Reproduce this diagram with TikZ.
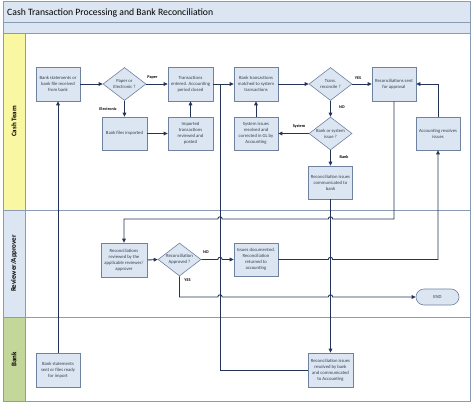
\documentclass[tikz,border=0pt]{standalone}
\usepackage{fontspec}
\setmainfont{Carlito}
\usetikzlibrary{shapes.geometric,arrows.meta}
\definecolor{boxfill}{HTML}{DCE6F2}
\definecolor{boxline}{HTML}{6F82A0}
\definecolor{lanel}{HTML}{8A9BB4}
\definecolor{conn}{HTML}{243456}
\definecolor{cashy}{HTML}{FAF7A3}
\definecolor{revb}{HTML}{DCE6F2}
\definecolor{bankg}{HTML}{C4D79B}
\definecolor{txt}{HTML}{33404F}
\begin{document}
\begin{tikzpicture}[x=1pt,y=-1pt,
 box/.style={draw=boxline,fill=boxfill,line width=0.6pt,minimum width=44pt,minimum height=34pt,inner sep=1pt,align=center,text=txt,font=\fontsize{4.7}{5.9}\selectfont},
 dia/.style={diamond,draw=boxline,fill=boxfill,line width=0.6pt,minimum width=43pt,minimum height=33pt,inner sep=0pt},
 dtext/.style={align=center,text=txt,font=\fontsize{4.7}{5.9}\selectfont,inner sep=0pt},
 endbox/.style={draw=boxline,fill=boxfill,line width=0.6pt,rounded corners=8pt,minimum width=43pt,minimum height=16pt,inner sep=1pt,text=txt,font=\fontsize{4.7}{5.9}\selectfont},
 lbl/.style={font=\fontsize{4.2}{5}\selectfont\bfseries,inner sep=0pt,text=black},
 flow/.style={draw=conn,line width=0.9pt},
 arr/.style={flow,-{Triangle[length=4pt,width=3.6pt]}},
 lane/.style={draw=lanel,line width=0.7pt},
 lanename/.style={rotate=90,font=\fontsize{7}{8}\selectfont\bfseries,text=black}
]
\useasboundingbox[fill=white] (0,0) rectangle (474,407);
% frame
\draw[lane,fill=boxfill] (3,1) rectangle (470,22);
\draw[lane,fill=boxfill] (3,22) rectangle (470,33);
\draw[lane,fill=white] (3,33) rectangle (470,210);
\draw[lane,fill=white] (3,210) rectangle (470,317);
\draw[lane,fill=white] (3,317) rectangle (470,401);
\draw[lane,fill=cashy] (3,33) rectangle (25,210);
\draw[lane,fill=revb] (3,210) rectangle (25,317);
\draw[lane,fill=bankg] (3,317) rectangle (25,401);
\node[anchor=west,font=\fontsize{9.7}{11}\selectfont,text=black,inner sep=0pt] (title) at (7,12.5) {Cash Transaction Processing and Bank Reconciliation};
\node[lanename] (l1) at (14,121.5) {Cash Team};
\node[lanename] (l2) at (14,263.5) {Reviewer/Approver};
\node[lanename] (l3) at (14,359.5) {Bank};
% nodes
\node[box] (recv) at (58,84) {Bank statements or\\bank file received\\from bank};
\node[dia] (pe) at (124.5,84) {};
\node[dtext] (pet) at (pe) {Paper or\\Electronic ?};
\node[box,minimum width=45pt,minimum height=33pt] (imp) at (124.5,133.5) {Bank files imported};
\node[box,minimum width=45pt] (ent) at (190.5,84) {Transactions\\entered. Accounting\\period closed};
\node[box,minimum width=45pt,minimum height=33pt] (post) at (190.5,133.5) {Imported\\transactions\\reviewed and\\posted};
\node[box] (match) at (256,84) {Bank transactions\\matched to system\\transactions};
\node[box,minimum height=33pt] (sys) at (256,133.5) {System issues\\resolved and\\corrected in GL by\\Accounting};
\node[dia] (tr) at (330.5,84) {};
\node[dtext] (trt) at (tr) {Trans.\\reconcile ?};
\node[box] (sent) at (394,84) {Reconciliations sent\\for approval};
\node[box,minimum height=33pt] (acc) at (438,133.5) {Accounting resolves\\issues};
\node[dia] (bs) at (330.5,133.5) {};
\node[dtext] (bst) at (bs) {Bank or system\\issue ?};
\node[box,minimum height=33pt] (comm) at (330.5,182.5) {Reconciliation issues\\communicated to\\bank};
\node[box,minimum width=46pt] (rev) at (124,260) {Reconciliations\\reviewed by the\\applicable reviewer/\\approver};
\node[dia] (ap) at (179.5,259.5) {};
\node[dtext] (apt) at (ap) {Reconciliation\\Approved ?};
\node[box,minimum height=33pt] (doc) at (256,259.5) {Issues documented.\\Reconciliation\\returned to\\accounting};
\node[endbox] (end) at (437.5,297) {END};
\node[box] (bsent) at (58,370) {Bank statements\\sent or files ready\\for import};
\node[box,minimum width=45pt] (res) at (330.5,370) {Reconciliation issues\\resolved by bank\\and communicated\\to Accounting};
\coordinate (j1) at (220,84);
% connectors
\draw[arr] (recv.east) -- (pe.west);
\draw[arr] (pe.east) -- (ent.west);
\node[lbl] (lpaper) at (152.5,77) {Paper};
\draw[arr] (pe.south) -- (imp.north);
\node[lbl] (lelec) at (108,109) {Electronic};
\draw[arr] (imp.east) -- (post.west);
\draw[arr] (post.north) -- (ent.south);
\draw[arr] (ent.east) -- (match.west);
\draw[arr] (match.east) -- (tr.west);
\draw[arr] (tr.east) -- (sent.west);
\node[lbl] (lyes1) at (358,78) {YES};
\draw[arr] (tr.south) -- (bs.north);
\node[lbl] (lno1) at (342,107) {NO};
\draw[arr] (bs.west) -- (sys.east);
\node[lbl] (lsys) at (299,126) {System};
\draw[arr] (sys.north) -- (match.south);
\draw[arr] (bs.south) -- (comm.north);
\node[lbl] (lbank) at (344,157) {Bank};
\draw[arr] (comm.south) -- (res.north);
\draw[flow] (res.west) -| (j1);
\draw[arr] (sent.south) -- (394,219) -- (332.7,219) .. controls (332.7,216.1) and (328.3,216.1) .. (328.3,219)
  -- (222.2,219) .. controls (222.2,216.1) and (217.8,216.1) .. (217.8,219) -| (rev.north);
\draw[arr] (rev.east) -- (ap.west);
\draw[arr] (ap.east) -- (217.8,259.5) .. controls (217.8,256.6) and (222.2,256.6) .. (222.2,259.5) -- (doc.west);
\node[lbl] (lno2) at (206,252) {NO};
\draw[arr] (doc.east) -- (328.3,259.5) .. controls (328.3,256.6) and (332.7,256.6) .. (332.7,259.5) -| (acc.south);
\draw[arr] (acc.north) |- (sent.east);
\draw[arr] (ap.south) -- (179.5,297) -- (217.8,297) .. controls (217.8,294.1) and (222.2,294.1) .. (222.2,297)
  -- (328.3,297) .. controls (328.3,294.1) and (332.7,294.1) .. (332.7,297) -- (end.west);
\node[lbl] (lyes2) at (187.5,280) {YES};
\draw[arr] (bsent.north) -- (recv.south);
\end{tikzpicture}
\end{document}
